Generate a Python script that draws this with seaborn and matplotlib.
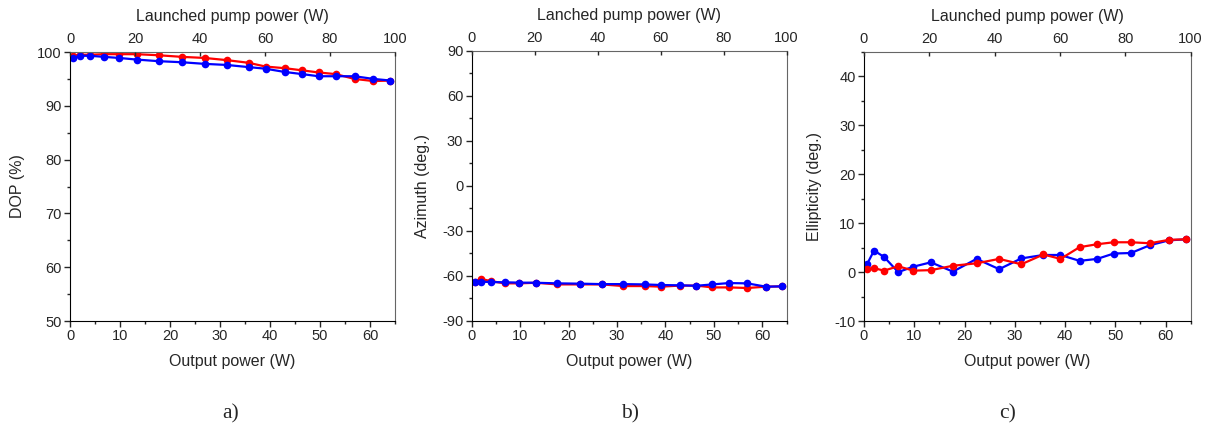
import pandas as pd
import seaborn as sns
import matplotlib.pyplot as plt
from matplotlib import ticker

# Output power (W), same points for every panel
output_power = [0.6, 2.0, 4.0, 6.8, 9.8, 13.3, 17.7, 22.4, 26.9, 31.3,
                35.7, 39.1, 42.9, 46.4, 49.7, 53.1, 56.9, 60.7, 64.1]

# a) DOP (%)
dop_red = [99.3, 99.5, 99.5, 99.6, 99.6, 99.6, 99.4, 99.1, 98.9, 98.5,
           98.0, 97.3, 97.0, 96.6, 96.2, 95.9, 95.0, 94.6, 94.7]
dop_blue = [98.9, 99.3, 99.3, 99.1, 98.9, 98.6, 98.3, 98.1, 97.8, 97.6,
            97.2, 96.9, 96.3, 95.9, 95.5, 95.5, 95.5, 95.0, 94.7]

# b) Azimuth (deg.)
azi_red = [-64.4, -62.2, -63.6, -65.1, -65.1, -64.7, -65.8, -65.8, -65.8, -66.9,
           -66.9, -67.3, -66.6, -66.6, -67.8, -67.8, -68.2, -67.3, -67.1]
azi_blue = [-64.0, -64.0, -64.2, -64.4, -64.6, -64.7, -65.1, -65.3, -65.6, -65.6,
            -65.8, -66.2, -66.4, -66.7, -65.8, -64.9, -65.1, -67.3, -67.1]

# c) Ellipticity (deg.)
ell_red = [0.6, 0.8, 0.3, 1.2, 0.3, 0.4, 1.3, 1.8, 2.7, 1.6,
           3.6, 2.7, 5.1, 5.7, 6.1, 6.1, 5.9, 6.6, 6.7]
ell_blue = [1.6, 4.4, 3.1, 0.0, 1.1, 2.0, 0.1, 2.7, 0.6, 2.8,
            3.5, 3.5, 2.3, 2.7, 3.8, 3.9, 5.5, 6.5, 6.7]

sns.set_style('ticks')
plt.rcParams['font.family'] = ['Liberation Sans', 'DejaVu Sans']
plt.rcParams['axes.unicode_minus'] = False

cores = {'red': '#ff0000', 'blue': '#0000ff'}


def painel(ax, red, blue, ylabel, top_label, ylim, ymajor, yminor, ordem):
    '''
    Desenha um painel com as duas séries e o eixo superior de potência de bombeio
    '''
    dados = pd.DataFrame({
        'x': output_power * 2,
        'y': red + blue,
        'serie': ['red'] * len(red) + ['blue'] * len(blue),
    })
    sns.lineplot(data=dados, x='x', y='y', hue='serie', hue_order=ordem,
                 palette=cores, marker='o', markersize=5.5, markeredgewidth=0,
                 linewidth=1.6, sort=False, estimator=None, legend=False, ax=ax)
    ax.set_xlim(0, 65)
    ax.set_ylim(*ylim)
    ax.xaxis.set_major_locator(ticker.MultipleLocator(10))
    ax.xaxis.set_minor_locator(ticker.MultipleLocator(5))
    ax.yaxis.set_major_locator(ticker.MultipleLocator(ymajor))
    ax.yaxis.set_minor_locator(ticker.MultipleLocator(yminor))
    ax.tick_params(which='major', direction='out', length=4, width=1, labelsize=10.5, pad=2)
    ax.tick_params(which='minor', direction='out', length=2.5, width=1)
    ax.set_xlabel('Output power (W)', fontsize=11.5, labelpad=8)
    ax.set_ylabel(ylabel, fontsize=11.5, labelpad=9)
    for s in ['left', 'bottom']:
        ax.spines[s].set_color('black')
    for s in ['top', 'right']:
        ax.spines[s].set_visible(True)
        ax.spines[s].set_color('#666666')

    # eixo superior
    top = ax.twiny()
    top.set_xlim(0, 100)
    top.xaxis.set_major_locator(ticker.MultipleLocator(20))
    top.xaxis.set_minor_locator(ticker.NullLocator())
    top.tick_params(which='major', direction='in', length=3, width=1, labelsize=10.5, pad=4)
    top.set_xlabel(top_label, fontsize=11.5, labelpad=8)
    for s in top.spines.values():
        s.set_visible(False)


fig = plt.figure(figsize=(12.05, 4.24), dpi=100)
ax1 = fig.add_axes([0.0581, 0.2429, 0.2697, 0.6344])
ax2 = fig.add_axes([0.3914, 0.2436, 0.2614, 0.6368])
ax3 = fig.add_axes([0.7170, 0.2429, 0.2711, 0.6344])

painel(ax1, dop_red, dop_blue, 'DOP (%)', 'Launched pump power (W)',
       (50, 100), 10, 5, ['red', 'blue'])
painel(ax2, azi_red, azi_blue, 'Azimuth (deg.)', 'Lanched pump power (W)',
       (-90, 90), 30, 15, ['red', 'blue'])
painel(ax3, ell_red, ell_blue, 'Ellipticity (deg.)', 'Launched pump power (W)',
       (-10, 45), 10, 5, ['blue', 'red'])

for txt, xpos in [('a)', 0.191), ('b)', 0.523), ('c)', 0.836)]:
    fig.text(xpos, 0.025, txt, ha='center', va='center', fontsize=15.5,
             family=['Liberation Serif', 'DejaVu Serif'])

fig.savefig('out.png', dpi=100)
